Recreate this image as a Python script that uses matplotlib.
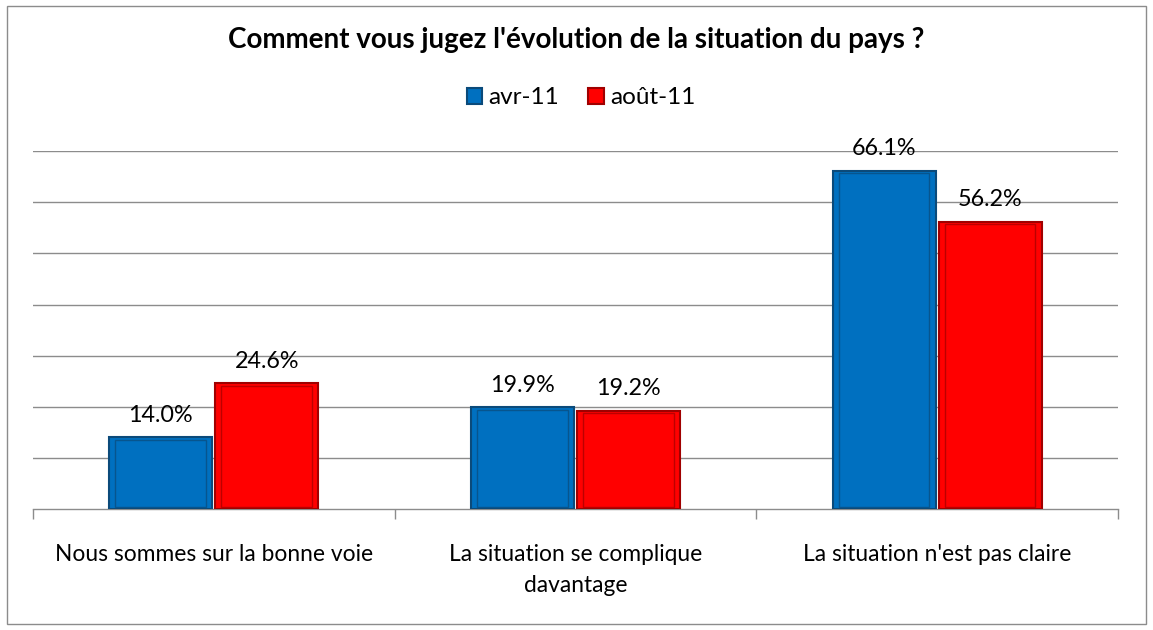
import matplotlib.pyplot as plt
import numpy as np
from matplotlib.patches import Rectangle

plt.rcParams['font.family'] = ['Lato', 'DejaVu Sans']

categories = ["Nous sommes sur la bonne voie", "La situation se complique\ndavantage",
              "La situation n'est pas claire"]
series = ["avr-11", "août-11"]
avr = [14.0, 19.9, 66.1]
aout = [24.6, 19.2, 56.2]
colors = ['#0070C0', '#FF0000']
edges = ['#0B4A7A', '#A00000']

fig = plt.figure(figsize=(11.53, 6.3), dpi=100)
ax = fig.add_axes([0.0286, 0.192, 0.9410, 0.568])

x = np.arange(len(categories))
w = 0.285
gap = 0.004
for vals, off, c, ec, lab in [(avr, -w / 2 - gap, colors[0], edges[0], series[0]),
                              (aout, w / 2 + gap, colors[1], edges[1], series[1])]:
    bars = ax.bar(x + off, vals, w, color=c, edgecolor=ec, linewidth=1.5, label=lab, zorder=3)
    # inner bevel
    ax.bar(x + off, np.array(vals) - 0.9, w * 0.88, bottom=0.45, color='none',
           edgecolor=ec, linewidth=1.0, alpha=0.7, zorder=4)
    for b, v in zip(bars, vals):
        ax.annotate(f"{v:.1f}%", (b.get_x() + b.get_width() / 2, v), xytext=(0, 16),
                    textcoords='offset points', ha='center', va='center', fontsize=16.8)

ax.set_xlim(-0.5, 2.5)
ax.set_ylim(0, 70)
ax.set_yticks(np.arange(10, 71, 10))
ax.yaxis.grid(True, color='#8C8C8C', linewidth=1)
ax.tick_params(axis='y', length=0, labelleft=False)
for s in ['left', 'right', 'top']:
    ax.spines[s].set_visible(False)
ax.spines['bottom'].set_color('#8C8C8C')
ax.spines['bottom'].set_linewidth(1)
ax.set_xticks([-0.5, 0.5, 1.5, 2.5])
ax.set_xticklabels([])
ax.tick_params(axis='x', length=7, color='#8C8C8C', width=1)
for i, c in enumerate(categories):
    ax.text(i, -0.098, c, transform=ax.get_xaxis_transform(), ha='center', va='top',
            fontsize=16.4, linespacing=1.6)

fig.text(0.5, 0.937, "Comment vous jugez l'évolution de la situation du pays ?",
         ha='center', va='center', fontsize=20, fontweight='bold')
fig.legend(loc='center', bbox_to_anchor=(0.504, 0.845), ncol=2, frameon=False, fontsize=17.5,
           handlelength=0.65, handleheight=0.65, handletextpad=0.25, columnspacing=1.2)

fig.patches.append(Rectangle((0.006, 0.01), 0.988, 0.98, transform=fig.transFigure,
                             fill=False, edgecolor='#8C8C8C', linewidth=1))
fig.savefig('out.png', dpi=100)
